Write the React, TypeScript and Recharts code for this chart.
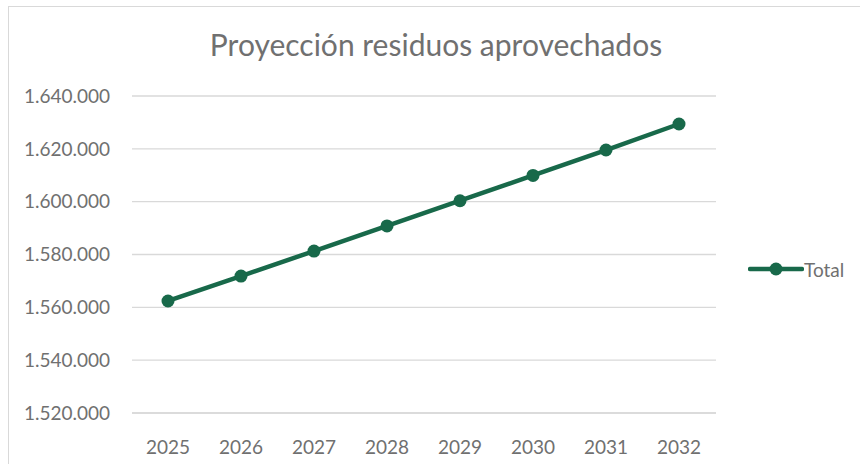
import React from 'react'
import { LineChart, Line, XAxis, YAxis, CartesianGrid, Legend } from 'recharts'

const years = ['2025', '2026', '2027', '2028', '2029', '2030', '2031', '2032']
const totals = [1562400, 1571850, 1581300, 1590800, 1600350, 1609950, 1619550, 1629400]
const yTicks = [1520000, 1540000, 1560000, 1580000, 1600000, 1620000, 1640000]

const GREEN = '#18694A'
const TEXT = '#707070'
const GRID = '#D9D9D9'

const data = years.map((year, i) => ({ year, Total: totals[i] }))

// miles con punto, como en Excel en español
const fmt = (v: number) => String(v).replace(/\B(?=(\d{3})+(?!\d))/g, '.')

function LegendBox(props: any) {
  const item = (props.payload || [])[0]
  if (!item) return null
  return (
    <div style={{ display: 'flex', alignItems: 'center' }}>
      <svg width={56} height={26}>
        <line x1={2} y1={13} x2={54} y2={13} stroke={item.color} strokeWidth={4.5} strokeLinecap="round" />
        <circle cx={28} cy={13} r={6.5} fill={item.color} />
      </svg>
      <span style={{ color: TEXT, fontSize: 19, marginLeft: 0 }}>{item.value}</span>
    </div>
  )
}

export default function App() {
  return (
    <div
      style={{
        position: 'absolute',
        left: 0,
        top: 0,
        width: 860,
        height: 464,
        background: '#fff',
        fontFamily: 'Lato, sans-serif',
        overflow: 'hidden',
      }}
    >
      <div
        style={{
          position: 'absolute',
          left: 8,
          top: 6,
          width: 900,
          height: 500,
          borderLeft: `1px solid ${GRID}`,
          borderTop: `1px solid ${GRID}`,
        }}
      />
      <div
        style={{
          position: 'absolute',
          left: 0,
          top: 24,
          width: 872,
          textAlign: 'center',
          fontSize: 30,
          color: TEXT,
          lineHeight: '40px',
        }}
      >
        Proyección residuos aprovechados
      </div>
      <div style={{ position: 'absolute', left: 0, top: 0 }}>
        <LineChart width={860} height={464} data={data} margin={{ top: 96, right: 144, bottom: 1, left: 0 }}>
          <CartesianGrid vertical={false} stroke={GRID} strokeWidth={1.3} />
          <XAxis
            dataKey="year"
            padding={{ left: 36, right: 37 }}
            axisLine={{ stroke: GRID, strokeWidth: 1.3 }}
            tickLine={false}
            tickSize={0}
            tickMargin={28}
            height={50}
            tick={{ fill: TEXT, fontSize: 19 }}
          />
          <YAxis
            domain={[1520000, 1640000]}
            ticks={yTicks}
            tickFormatter={fmt}
            width={132}
            axisLine={false}
            tickLine={false}
            tickSize={0}
            tickMargin={22}
            tick={{ fill: TEXT, fontSize: 19 }}
          />
          <Legend
            verticalAlign="middle"
            align="center"
            layout="horizontal"
            wrapperStyle={{ left: 748, top: 256, width: 110, height: 26 }}
            content={<LegendBox />}
          />
          <Line
            type="linear"
            dataKey="Total"
            stroke={GREEN}
            strokeWidth={4.5}
            dot={{ r: 6.5, fill: GREEN, stroke: 'none' }}
            activeDot={false}
            isAnimationActive={false}
          />
        </LineChart>
      </div>
    </div>
  )
}
